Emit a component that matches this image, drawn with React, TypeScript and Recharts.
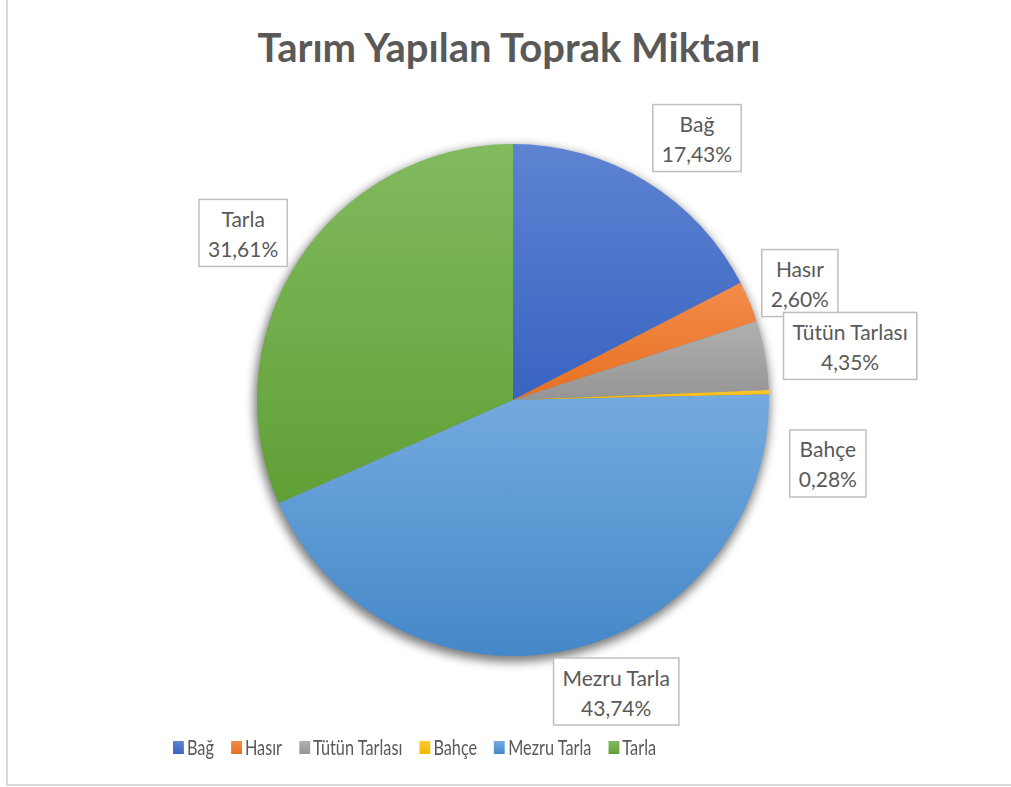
import { useLayoutEffect, useRef, useState } from "react"
import { PieChart, Pie, Cell, Legend } from "recharts"

const categories = ["Bağ", "Hasır", "Tütün Tarlası", "Bahçe", "Mezru Tarla", "Tarla"]
const shares = [17.43, 2.6, 4.35, 0.28, 43.74, 31.61]

const data = categories.map((name, i) => ({ name, value: shares[i] }))

const palette = [
  { base: "#4472C4", top: "#5E83D2", bottom: "#3863C0" },
  { base: "#ED7D31", top: "#F28C4C", bottom: "#E8701F" },
  { base: "#A5A5A5", top: "#B0B0B0", bottom: "#959595" },
  { base: "#FFC000", top: "#FFC934", bottom: "#F2B600" },
  { base: "#5B9BD5", top: "#73AADF", bottom: "#4588C8" },
  { base: "#70AD47", top: "#82BA5F", bottom: "#60A036" },
]

// label box nudges away from the plain radial spot (px)
const labelNudge = [
  [20, 7],
  [-4, 4],
  [27, 1],
  [0, 73],
  [35, -16],
  [-6, 5],
]

const FONT = "Lato, 'Open Sans', sans-serif"
const TEXT = "#595959"
const RAD = Math.PI / 180

const fmt = (v: number) => v.toFixed(2).replace(".", ",") + "%"

function BoxLabel(props: any) {
  const { cx, cy, midAngle, outerRadius, index, name, value } = props
  const ref = useRef<SVGGElement>(null)
  const [w, setW] = useState(90)
  useLayoutEffect(() => {
    if (ref.current) {
      const bw = ref.current.getBBox().width
      if (Math.abs(bw + 18 - w) > 0.5) setW(bw + 18)
    }
  })
  const r = outerRadius + 59
  const [nx, ny] = labelNudge[index] ?? [0, 0]
  const x = cx + r * Math.cos(-midAngle * RAD) + nx
  const y = cy + r * Math.sin(-midAngle * RAD) + ny
  return (
    <g>
      <rect
        x={x - w / 2}
        y={y - 33.5}
        width={w}
        height={67}
        fill="#fff"
        stroke="#BFBFBF"
        strokeWidth={1.5}
      />
      <g ref={ref}>
        <text x={x} y={y - 6} textAnchor="middle" fontFamily={FONT} fontSize={21} fill={TEXT}>
          {name}
        </text>
        <text x={x} y={y + 24} textAnchor="middle" fontFamily={FONT} fontSize={21} fill={TEXT}>
          {fmt(value)}
        </text>
      </g>
    </g>
  )
}

// the legend in the original is squeezed sideways, so scale the row
function LegendRow() {
  return (
    <div style={{ paddingLeft: 173 }}>
      <div
        style={{
          display: "inline-flex",
          alignItems: "center",
          fontFamily: FONT,
          fontSize: 21,
          lineHeight: "26px",
          color: TEXT,
          whiteSpace: "nowrap",
          transform: "scaleX(0.775)",
          transformOrigin: "0 50%",
        }}
      >
        {categories.map((c, i) => (
          <span key={c} style={{ display: "flex", alignItems: "center", marginRight: 22 }}>
            <span
              style={{
                width: 14,
                height: 13,
                marginRight: 4,
                background: `linear-gradient(${palette[i].top}, ${palette[i].bottom})`,
                display: "inline-block",
              }}
            />
            {c}
          </span>
        ))}
      </div>
    </div>
  )
}

export default function App() {
  return (
    <div
      style={{
        position: "fixed",
        left: 0,
        top: 0,
        width: 1011,
        height: 787,
        background: "#fff",
        overflow: "hidden",
      }}
    >
      <div
        style={{
          position: "absolute",
          left: 6,
          top: -10,
          width: 1020,
          height: 792,
          border: "2px solid #D9D9D9",
        }}
      />
      <svg width={1011} height={90} style={{ position: "absolute", left: 0, top: 0 }}>
        <text
          x={509}
          y={62}
          textAnchor="middle"
          fontFamily={FONT}
          fontWeight={700}
          fontSize={40}
          fill={TEXT}
        >
          Tarım Yapılan Toprak Miktarı
        </text>
      </svg>
      <div style={{ position: "absolute", left: 0, top: 0 }}>
        <PieChart width={1011} height={787} margin={{ top: 0, right: 0, bottom: 0, left: 0 }}>
          <defs>
            {palette.map((p, i) => (
              <linearGradient key={i} id={`slice${i}`} x1="0" y1="0" x2="0" y2="1">
                <stop offset="0%" stopColor={p.top} />
                <stop offset="100%" stopColor={p.bottom} />
              </linearGradient>
            ))}
            <filter id="pieShadow" x="-20%" y="-20%" width="140%" height="140%">
              <feGaussianBlur stdDeviation={5} />
            </filter>
          </defs>
          <Pie
            data={[{ name: "shadow", value: 1 }]}
            dataKey="value"
            cx={512}
            cy={404}
            outerRadius={258}
            startAngle={90}
            endAngle={-270}
            stroke="none"
            isAnimationActive={false}
            legendType="none"
            style={{ filter: "url(#pieShadow)" }}
          >
            <Cell fill="rgba(0,0,0,0.5)" style={{ filter: "url(#pieShadow)" }} />
          </Pie>
          <Pie
            data={data}
            dataKey="value"
            nameKey="name"
            cx={513}
            cy={400}
            outerRadius={256}
            startAngle={90}
            endAngle={-270}
            stroke="none"
            isAnimationActive={false}
            labelLine={false}
            label={BoxLabel}
          >
            {data.map((d, i) => (
              <Cell key={d.name} fill={`url(#slice${i})`} />
            ))}
          </Pie>
          <Legend
            content={() => <LegendRow />}
            wrapperStyle={{ position: "absolute", left: 0, top: 734, width: 1011 }}
          />
        </PieChart>
      </div>
    </div>
  )
}
